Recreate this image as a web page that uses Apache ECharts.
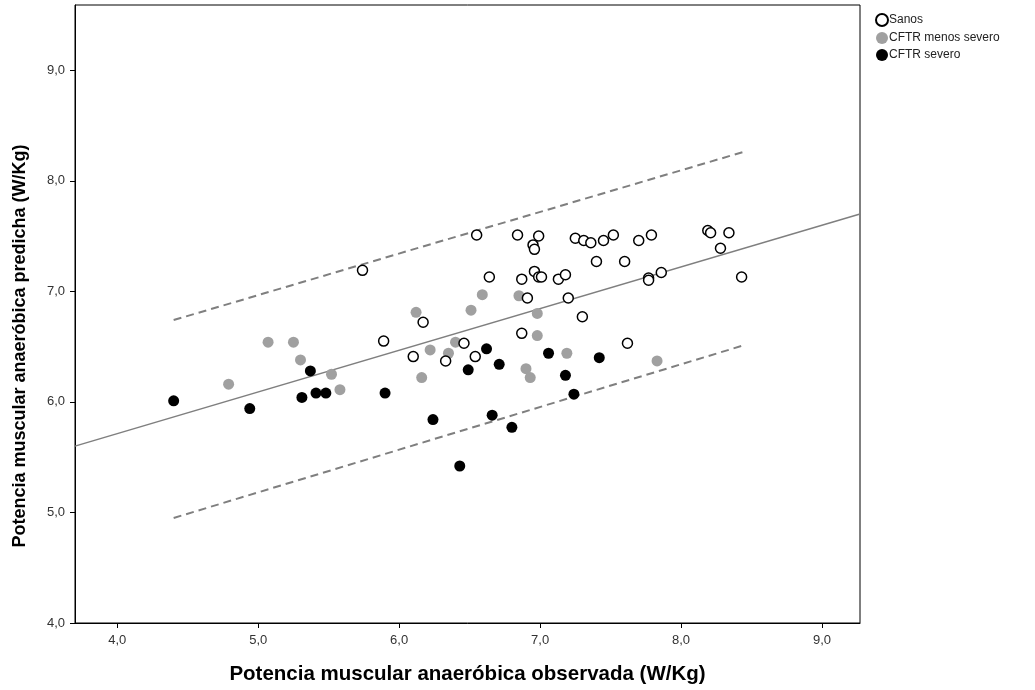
<!DOCTYPE html>
<html>
<head>
<meta charset="utf-8">
<script src="https://cdn.jsdelivr.net/npm/echarts@6/dist/echarts.min.js"></script>
<style>
  html, body { margin: 0; padding: 0; background: #fff; }
  #chart { width: 1035px; height: 690px; }
</style>
</head>
<body>
<div id="chart"></div>
<script>
  // puntos [observada, predicha]
  const sanos = [
    [5.74, 7.19], [5.89, 6.55], [6.10, 6.41], [6.17, 6.72], [6.33, 6.37],
    [6.46, 6.53], [6.54, 6.41], [6.55, 7.51], [6.64, 7.13], [6.84, 7.51],
    [6.87, 7.11], [6.87, 6.62], [6.91, 6.94], [6.95, 7.42], [6.96, 7.38],
    [6.96, 7.18], [6.99, 7.13], [6.99, 7.50], [7.01, 7.13], [7.13, 7.11],
    [7.18, 7.15], [7.20, 6.94], [7.25, 7.48], [7.31, 7.46], [7.36, 7.44],
    [7.40, 7.27], [7.30, 6.77], [7.45, 7.46], [7.52, 7.51], [7.60, 7.27],
    [7.62, 6.53], [7.70, 7.46], [7.77, 7.12], [7.77, 7.10], [7.79, 7.51],
    [7.86, 7.17], [8.19, 7.55], [8.21, 7.53], [8.28, 7.39], [8.34, 7.53],
    [8.43, 7.13]
  ]
  const cftrMenos = [
    [4.79, 6.16], [5.07, 6.54], [5.25, 6.54], [5.30, 6.38], [5.52, 6.25],
    [5.58, 6.11], [6.12, 6.81], [6.16, 6.22], [6.22, 6.47], [6.35, 6.44],
    [6.40, 6.54], [6.51, 6.83], [6.59, 6.97], [6.85, 6.96], [6.98, 6.80],
    [6.98, 6.60], [7.19, 6.44], [6.90, 6.30], [6.93, 6.22], [7.83, 6.37]
  ]
  const cftrSevero = [
    [4.40, 6.01], [4.94, 5.94], [5.37, 6.28], [5.31, 6.04], [5.41, 6.08],
    [5.48, 6.08], [5.90, 6.08], [6.24, 5.84], [6.43, 5.42], [6.49, 6.29],
    [6.62, 6.48], [6.66, 5.88], [6.71, 6.34], [6.80, 5.77], [7.06, 6.44],
    [7.18, 6.24], [7.24, 6.07], [7.42, 6.40]
  ]
  // recta de ajuste y límites de predicción
  const ajuste = [[3.70, 5.60], [9.27, 7.70]]
  const limSup = [[4.40, 6.74], [8.44, 8.26]]
  const limInf = [[4.40, 4.95], [8.44, 6.51]]
  const xTicks = [4, 5, 6, 7, 8, 9]
  const yTicks = [4, 5, 6, 7, 8, 9]

  const fuente = 'Liberation Sans, Arial, sans-serif'
  const fmt = function (v) { return v.toFixed(1).replace('.', ',') }

  let myChart = echarts.init(document.getElementById('chart'))
  let option = {
    animation: false,
    grid: {
      left: 75,
      right: 175,
      top: 5,
      bottom: 67,
      show: true,
      borderColor: '#000',
      borderWidth: 1
    },
    legend: {
      orient: 'vertical',
      left: 875,
      top: 13,
      padding: 0,
      itemWidth: 12,
      itemHeight: 12,
      itemGap: 5,
      icon: 'circle',
      data: ['Sanos', 'CFTR menos severo', 'CFTR severo'],
      textStyle: { fontFamily: fuente, fontSize: 12, color: '#222', padding: [0, 0, 0, -4] }
    },
    xAxis: {
      type: 'value',
      min: 3.7,
      max: 9.27,
      name: 'Potencia muscular anaeróbica observada (W/Kg)',
      nameLocation: 'middle',
      nameGap: 41,
      nameTextStyle: { fontFamily: fuente, fontSize: 20.5, fontWeight: 'bold', color: '#000' },
      axisLine: { show: true, lineStyle: { color: '#000', width: 1 } },
      axisTick: { show: true, length: 5, customValues: xTicks, lineStyle: { color: '#000' } },
      axisLabel: { customValues: xTicks, formatter: fmt, fontFamily: fuente, fontSize: 13, color: '#333', margin: 11 },
      splitLine: { show: false }
    },
    yAxis: {
      type: 'value',
      min: 4,
      max: 9.59,
      name: 'Potencia muscular anaeróbica predicha (W/Kg)',
      nameLocation: 'middle',
      nameGap: 46,
      nameTextStyle: {
        fontFamily: fuente, fontSize: 18, fontWeight: 'bold', color: '#000',
        padding: [0, 64, 0, 0]
      },
      axisLine: { show: true, lineStyle: { color: '#000', width: 1 } },
      axisTick: { show: true, length: 5, customValues: yTicks, lineStyle: { color: '#000' } },
      axisLabel: { customValues: yTicks, formatter: fmt, fontFamily: fuente, fontSize: 13, color: '#333', margin: 10 },
      splitLine: { show: false }
    },
    series: [
      {
        name: 'ajuste',
        type: 'line',
        data: ajuste,
        symbol: 'none',
        silent: true,
        z: 1,
        lineStyle: { color: '#7f7f7f', width: 1.5 }
      },
      {
        name: 'sup',
        type: 'line',
        data: limSup,
        symbol: 'none',
        silent: true,
        z: 1,
        lineStyle: { color: '#7f7f7f', width: 2, type: [8, 5] }
      },
      {
        name: 'inf',
        type: 'line',
        data: limInf,
        symbol: 'none',
        silent: true,
        z: 1,
        lineStyle: { color: '#7f7f7f', width: 2, type: [8, 5] }
      },
      {
        name: 'Sanos',
        type: 'scatter',
        data: sanos,
        symbolSize: 10,
        z: 3,
        itemStyle: { color: '#fff', borderColor: '#000', borderWidth: 1.5, opacity: 1 }
      },
      {
        name: 'CFTR menos severo',
        type: 'scatter',
        data: cftrMenos,
        symbolSize: 11,
        z: 2,
        itemStyle: { color: '#a0a0a0', opacity: 1 }
      },
      {
        name: 'CFTR severo',
        type: 'scatter',
        data: cftrSevero,
        symbolSize: 11,
        z: 2,
        itemStyle: { color: '#000', opacity: 1 }
      }
    ]
  }
  myChart.setOption(option)
</script>
</body>
</html>
